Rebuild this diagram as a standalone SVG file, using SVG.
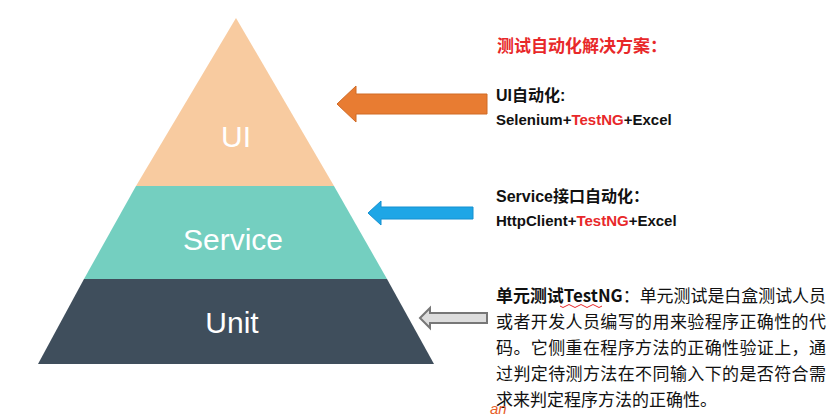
<svg xmlns="http://www.w3.org/2000/svg" width="840" height="416" viewBox="0 0 840 416">
<style>
.lbl{font-family:"Liberation Sans","Noto Sans CJK SC",sans-serif;font-size:30px;fill:#fff;text-anchor:middle}
.t{font-family:"Liberation Sans","Noto Sans CJK SC",sans-serif;font-weight:bold;font-size:15px;fill:#111}
.r{fill:#e8282a}
.b{font-family:"Noto Sans CJK SC",sans-serif;font-size:17px;fill:#111}
</style>
<rect width="840" height="416" fill="#fff"/>
<g id="ui"><polygon points="236,18 334,186 136,186" fill="#f8cba0"/><text class="lbl" x="236" y="147">UI</text></g>
<g id="service"><polygon points="136,186 334,186 387,279 84,279" fill="#74cfc0"/><text class="lbl" x="233" y="250">Service</text></g>
<g id="unit"><polygon points="84,279 387,279 434,364 38,364" fill="#3f4e5c"/><text class="lbl" x="232" y="333">Unit</text></g>
<g id="connectors">
<polygon points="337,104 356,86 356,94 487,94 487,114 356,114 356,122" fill="#e87c32" stroke="#d06a25"/>
<polygon points="368,213 381,201 381,207 473,207 473,219 381,219 381,225" fill="#1ea6e6" stroke="#1590d0"/>
<polygon points="420,318 430,308 430,313 487,313 487,323 430,323 430,328" fill="#ddd" stroke="#777" stroke-width="2"/>
</g>
<g id="text">
<text class="t r" x="497" y="52" style="font-size:17px">测试自动化解决方案：</text>
<text class="t" x="496" y="101" style="font-size:16px">UI自动化:</text>
<text class="t" x="496" y="125">Selenium+<tspan class="r">TestNG</tspan>+Excel</text>
<text class="t" x="496" y="202" style="font-size:16px">Service接口自动化：</text>
<text class="t" x="496" y="226">HttpClient+<tspan class="r">TestNG</tspan>+Excel</text>
<text class="b" x="496" y="302" textLength="330" lengthAdjust="spacingAndGlyphs"><tspan font-weight="bold">单元测试TestNG</tspan>：单元测试是白盒测试人员</text>
<text class="b" x="496" y="328" textLength="330">或者开发人员编写的用来验程序正确性的代</text>
<text class="b" x="496" y="354" textLength="330">码。它侧重在程序方法的正确性验证上，通</text>
<text class="b" x="496" y="380" textLength="330">过判定待测方法在不同输入下的是否符合需</text>
<text class="b" x="496" y="406">求来判定程序方法的正确性。</text>
<text x="490" y="414" font-family="Liberation Sans,sans-serif" font-style="italic" font-size="15" fill="#e8602a">an</text>
<path d="M560,306 q3,3 6,0 t6,0 t6,0 t6,0 t6,0 t6,0 t6,0" fill="none" stroke="#e8282a" stroke-width="1"/>
</g>
</svg>
